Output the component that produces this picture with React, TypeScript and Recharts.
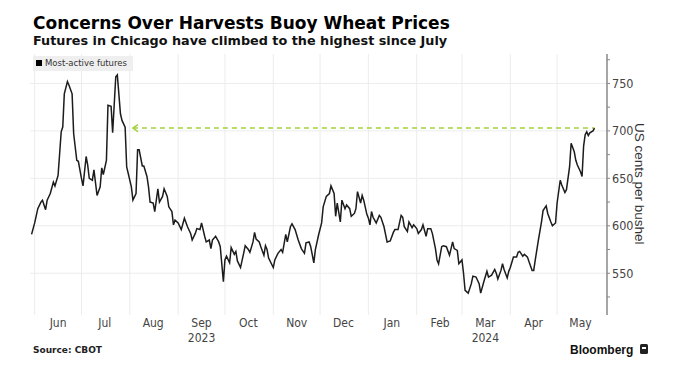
import React from 'react';
import { LineChart, Line, XAxis, YAxis, ReferenceLine, ReferenceDot } from 'recharts';

// most-active CBOT wheat futures, US cents per bushel
const dates = [
  '2023-05-30',
  '2023-06-01', '2023-06-03', '2023-06-05', '2023-06-06', '2023-06-08', '2023-06-09', '2023-06-11', '2023-06-13', '2023-06-14', '2023-06-16', '2023-06-18', '2023-06-19', '2023-06-20', '2023-06-22', '2023-06-23', '2023-06-25', '2023-06-26', '2023-06-28', '2023-06-29',
  '2023-07-01', '2023-07-02', '2023-07-04', '2023-07-05', '2023-07-06', '2023-07-08', '2023-07-09', '2023-07-11', '2023-07-13', '2023-07-14', '2023-07-15', '2023-07-17', '2023-07-18', '2023-07-20', '2023-07-21', '2023-07-23', '2023-07-24', '2023-07-26', '2023-07-27', '2023-07-29', '2023-07-30',
  '2023-08-02', '2023-08-03', '2023-08-05', '2023-08-06', '2023-08-07', '2023-08-09', '2023-08-10', '2023-08-12', '2023-08-13', '2023-08-14', '2023-08-16', '2023-08-17', '2023-08-19', '2023-08-20', '2023-08-22', '2023-08-23', '2023-08-25', '2023-08-26', '2023-08-28', '2023-08-29', '2023-08-30',
  '2023-09-01', '2023-09-03', '2023-09-05', '2023-09-07', '2023-09-09', '2023-09-10', '2023-09-12', '2023-09-13', '2023-09-15', '2023-09-16', '2023-09-18', '2023-09-19', '2023-09-21', '2023-09-22', '2023-09-23', '2023-09-25', '2023-09-27', '2023-09-28', '2023-09-30',
  '2023-10-01', '2023-10-02', '2023-10-04', '2023-10-05', '2023-10-07', '2023-10-08', '2023-10-09', '2023-10-11', '2023-10-13', '2023-10-14', '2023-10-16', '2023-10-17', '2023-10-19', '2023-10-20', '2023-10-21', '2023-10-23', '2023-10-24', '2023-10-26', '2023-10-27', '2023-10-28', '2023-10-29',
  '2023-11-01', '2023-11-02', '2023-11-04', '2023-11-06', '2023-11-07', '2023-11-09', '2023-11-10', '2023-11-12', '2023-11-13', '2023-11-15', '2023-11-17', '2023-11-19', '2023-11-21', '2023-11-22', '2023-11-24', '2023-11-25', '2023-11-27', '2023-11-28', '2023-11-30',
  '2023-12-02', '2023-12-03', '2023-12-05', '2023-12-07', '2023-12-08', '2023-12-10', '2023-12-11', '2023-12-12', '2023-12-14', '2023-12-15', '2023-12-17', '2023-12-18', '2023-12-20', '2023-12-21', '2023-12-23', '2023-12-24', '2023-12-25', '2023-12-27', '2023-12-28', '2023-12-29', '2023-12-31',
  '2024-01-01', '2024-01-02', '2024-01-03', '2024-01-04', '2024-01-06', '2024-01-08', '2024-01-09', '2024-01-11', '2024-01-12', '2024-01-13', '2024-01-15', '2024-01-17', '2024-01-18', '2024-01-20', '2024-01-22', '2024-01-23', '2024-01-24', '2024-01-26', '2024-01-27', '2024-01-29', '2024-01-30',
  '2024-02-01', '2024-02-02', '2024-02-04', '2024-02-05', '2024-02-07', '2024-02-08', '2024-02-10', '2024-02-11', '2024-02-13', '2024-02-14', '2024-02-15', '2024-02-17', '2024-02-18', '2024-02-20', '2024-02-22', '2024-02-23', '2024-02-24', '2024-02-25', '2024-02-27', '2024-02-28',
  '2024-03-01', '2024-03-02', '2024-03-03', '2024-03-05', '2024-03-07', '2024-03-08', '2024-03-10', '2024-03-12', '2024-03-13', '2024-03-15', '2024-03-17', '2024-03-18', '2024-03-20', '2024-03-22', '2024-03-23', '2024-03-24', '2024-03-26', '2024-03-27', '2024-03-28', '2024-03-30', '2024-03-31',
  '2024-04-01', '2024-04-03', '2024-04-05', '2024-04-06', '2024-04-07', '2024-04-09', '2024-04-10', '2024-04-12', '2024-04-13', '2024-04-15', '2024-04-16', '2024-04-17', '2024-04-19', '2024-04-21', '2024-04-22', '2024-04-24', '2024-04-25', '2024-04-27', '2024-04-28', '2024-04-30',
  '2024-05-01', '2024-05-03', '2024-05-04', '2024-05-06', '2024-05-07', '2024-05-09', '2024-05-10', '2024-05-12', '2024-05-13', '2024-05-14', '2024-05-16', '2024-05-17', '2024-05-18', '2024-05-19', '2024-05-20', '2024-05-21', '2024-05-22', '2024-05-24', '2024-05-25',
];

const prices = [
  591,
  603, 618, 625, 627, 617, 627, 634, 646, 642, 653, 699, 704, 739, 752, 748, 739, 697, 669, 668,
  650, 642, 673, 664, 650, 648, 659, 632, 641, 661, 654, 669, 727, 726, 698, 757, 759, 718, 711, 704, 662,
  641, 627, 634, 680, 680, 663, 663, 652, 641, 625, 624, 615, 639, 625, 631, 639, 631, 620, 615, 601, 606,
  603, 596, 608, 599, 592, 585, 592, 597, 596, 603, 589, 583, 585, 576, 585, 589, 583, 578, 541,
  564, 568, 561, 577, 570, 573, 563, 556, 571, 579, 575, 572, 583, 593, 586, 583, 578, 569, 579, 575, 566,
  556, 564, 571, 575, 572, 591, 583, 599, 602, 596, 585, 576, 571, 582, 583, 578, 561, 575, 590,
  603, 620, 631, 634, 642, 634, 610, 624, 604, 627, 618, 622, 618, 610, 613, 618, 636, 624, 632, 627, 612,
  608, 601, 615, 609, 603, 611, 609, 599, 591, 583, 584, 593, 596, 596, 611, 609, 599, 594, 604, 598, 601,
  597, 592, 596, 601, 589, 597, 597, 592, 576, 564, 560, 578, 579, 578, 569, 576, 583, 576, 574, 560,
  564, 550, 532, 529, 539, 547, 546, 539, 529, 541, 552, 546, 548, 554, 550, 544, 553, 560, 554, 545, 552,
  556, 567, 567, 572, 573, 568, 570, 567, 562, 553, 553, 564, 585, 604, 616, 621, 613, 604, 600, 603,
  624, 648, 643, 635, 638, 662, 687, 678, 669, 664, 657, 652, 684, 696, 699, 695, 698, 700, 703,
];

const monthStarts = [
  '2023-06-01', '2023-07-01', '2023-08-01', '2023-09-01', '2023-10-01', '2023-11-01',
  '2023-12-01', '2024-01-01', '2024-02-01', '2024-03-01', '2024-04-01', '2024-05-01',
];
const monthMids = [
  '2023-06-16', '2023-07-16', '2023-08-16', '2023-09-16', '2023-10-16', '2023-11-16',
  '2023-12-16', '2024-01-16', '2024-02-16', '2024-03-16', '2024-04-16', '2024-05-16',
];
const monthNames = ['Jun', 'Jul', 'Aug', 'Sep', 'Oct', 'Nov', 'Dec', 'Jan', 'Feb', 'Mar', 'Apr', 'May'];
const yearNames = ['', '', '', '2023', '', '', '', '', '', '2024', '', ''];

const priceTicks = [525, 550, 575, 600, 625, 650, 675, 700, 725, 750, 775];
const gridPrices = [550, 600, 650, 700, 750];

// dashed "highest since July" marker
const highFrom = '2023-08-03';
const highTo = '2024-05-25';
const highLevel = 703;

const toTime = (s: string) => {
  const [y, m, d] = s.split('-').map(Number);
  return Date.UTC(y, m - 1, d);
};

const data = dates.map((d, i) => ({ t: toTime(d), price: prices[i] }));
const midTimes = monthMids.map(toTime);

const NARROW = "'Liberation Sans Narrow', 'DejaVu Sans Condensed', sans-serif";
const BOLD = "'DejaVu Sans', Verdana, sans-serif";

function MonthTick(props: any) {
  const { x, y, payload } = props;
  const i = midTimes.indexOf(payload.value);
  return (
    <g>
      <text x={x} y={y + 4} textAnchor="middle" fontFamily={NARROW} fontSize={12} fill="#444">
        {monthNames[i]}
      </text>
      {yearNames[i] && (
        <text x={x} y={y + 18.5} textAnchor="middle" fontFamily={NARROW} fontSize={12} fill="#444">
          {yearNames[i]}
        </text>
      )}
    </g>
  );
}

function PriceTick(props: any) {
  const { x, y, payload } = props;
  if (payload.value % 50 !== 0) return <g />;
  return (
    <text x={x} y={y + 4.5} textAnchor="start" fontFamily={NARROW} fontSize={12.5} fill="#444">
      {payload.value}
    </text>
  );
}

function Chevron(props: any) {
  const { cx, cy } = props;
  return (
    <path
      d={`M${cx + 5},${cy - 3.5} L${cx},${cy} L${cx + 5},${cy + 3.5}`}
      fill="none"
      stroke="#a3d13a"
      strokeWidth={1.5}
    />
  );
}

export default function App() {
  return (
    <div style={{ position: 'absolute', left: 0, top: 0, width: 680, height: 370, background: '#fff', overflow: 'hidden' }}>
      <div style={{ position: 'absolute', left: 33, top: 15, fontFamily: BOLD, fontWeight: 700, fontSize: 17, lineHeight: '17px', color: '#000', whiteSpace: 'nowrap' }}>
        Concerns Over Harvests Buoy Wheat Prices
      </div>
      <div style={{ position: 'absolute', left: 33, top: 35, fontFamily: BOLD, fontWeight: 700, fontSize: 12.8, lineHeight: '12.8px', color: '#111', whiteSpace: 'nowrap' }}>
        Futures in Chicago have climbed to the highest since July
      </div>

      <div style={{ position: 'absolute', left: 0, top: 0 }}>
        <LineChart width={680} height={370} data={data} margin={{ top: 54, right: 0, bottom: 25, left: 30 }}>
          {monthStarts.map((m) => (
            <ReferenceLine key={m} x={toTime(m)} stroke="#ececec" strokeWidth={1} />
          ))}
          {gridPrices.map((v) => (
            <ReferenceLine key={v} y={v} stroke="#ececec" strokeWidth={1} />
          ))}
          <XAxis
            dataKey="t"
            type="number"
            domain={[toTime('2023-05-29'), toTime('2024-06-02')]}
            ticks={midTimes}
            interval={0}
            tick={<MonthTick />}
            axisLine={false}
            tickLine={false}
            height={30}
            allowDataOverflow
          />
          <YAxis
            orientation="right"
            domain={[506, 781]}
            ticks={priceTicks}
            interval={0}
            tick={<PriceTick />}
            tickSize={3}
            tickMargin={2}
            tickLine={{ stroke: '#888' }}
            axisLine={{ stroke: '#888', strokeWidth: 1.5 }}
            width={73}
            allowDataOverflow
          />
          <ReferenceLine
            segment={[
              { x: toTime(highFrom), y: highLevel },
              { x: toTime(highTo), y: highLevel },
            ]}
            stroke="#a3d13a"
            strokeWidth={1.5}
            strokeDasharray="5 4"
          />
          <ReferenceDot x={toTime(highFrom)} y={highLevel} r={4} shape={<Chevron />} />
          <Line
            type="linear"
            dataKey="price"
            stroke="#1c1c1c"
            strokeWidth={1.5}
            dot={false}
            isAnimationActive={false}
          />
        </LineChart>
      </div>

      <div style={{ position: 'absolute', left: 33, top: 56, width: 100, height: 15, background: '#efefef', fontFamily: "'DejaVu Sans', sans-serif", fontSize: 8.5, lineHeight: '15px', color: '#333', whiteSpace: 'nowrap' }}>
        <span style={{ display: 'inline-block', width: 6, height: 6, background: '#000', marginLeft: 3, marginRight: 3, verticalAlign: 'middle', position: 'relative', top: -1 }} />
        Most-active futures
      </div>

      <div style={{ position: 'absolute', left: 630, top: 54, width: 18, height: 260, writingMode: 'vertical-rl', textAlign: 'center', fontFamily: "'Liberation Sans', Arial, sans-serif", fontSize: 13.5, lineHeight: '18px', color: '#333', whiteSpace: 'nowrap' }}>
        US cents per bushel
      </div>

      <div style={{ position: 'absolute', left: 33, top: 346, fontFamily: BOLD, fontWeight: 700, fontSize: 9, lineHeight: '9px', color: '#222', whiteSpace: 'nowrap' }}>
        Source: CBOT
      </div>
      <div style={{ position: 'absolute', left: 570, top: 344, fontFamily: "'Liberation Sans', Arial, sans-serif", fontWeight: 700, fontSize: 12, lineHeight: '12px', color: '#111', whiteSpace: 'nowrap' }}>
        Bloomberg
      </div>
      <div style={{ position: 'absolute', left: 640, top: 344, width: 8, height: 10, background: '#222', borderRadius: 1.5 }}>
        <div style={{ position: 'absolute', left: 2, top: 3, width: 4, height: 2, background: '#fff' }} />
      </div>
    </div>
  );
}
